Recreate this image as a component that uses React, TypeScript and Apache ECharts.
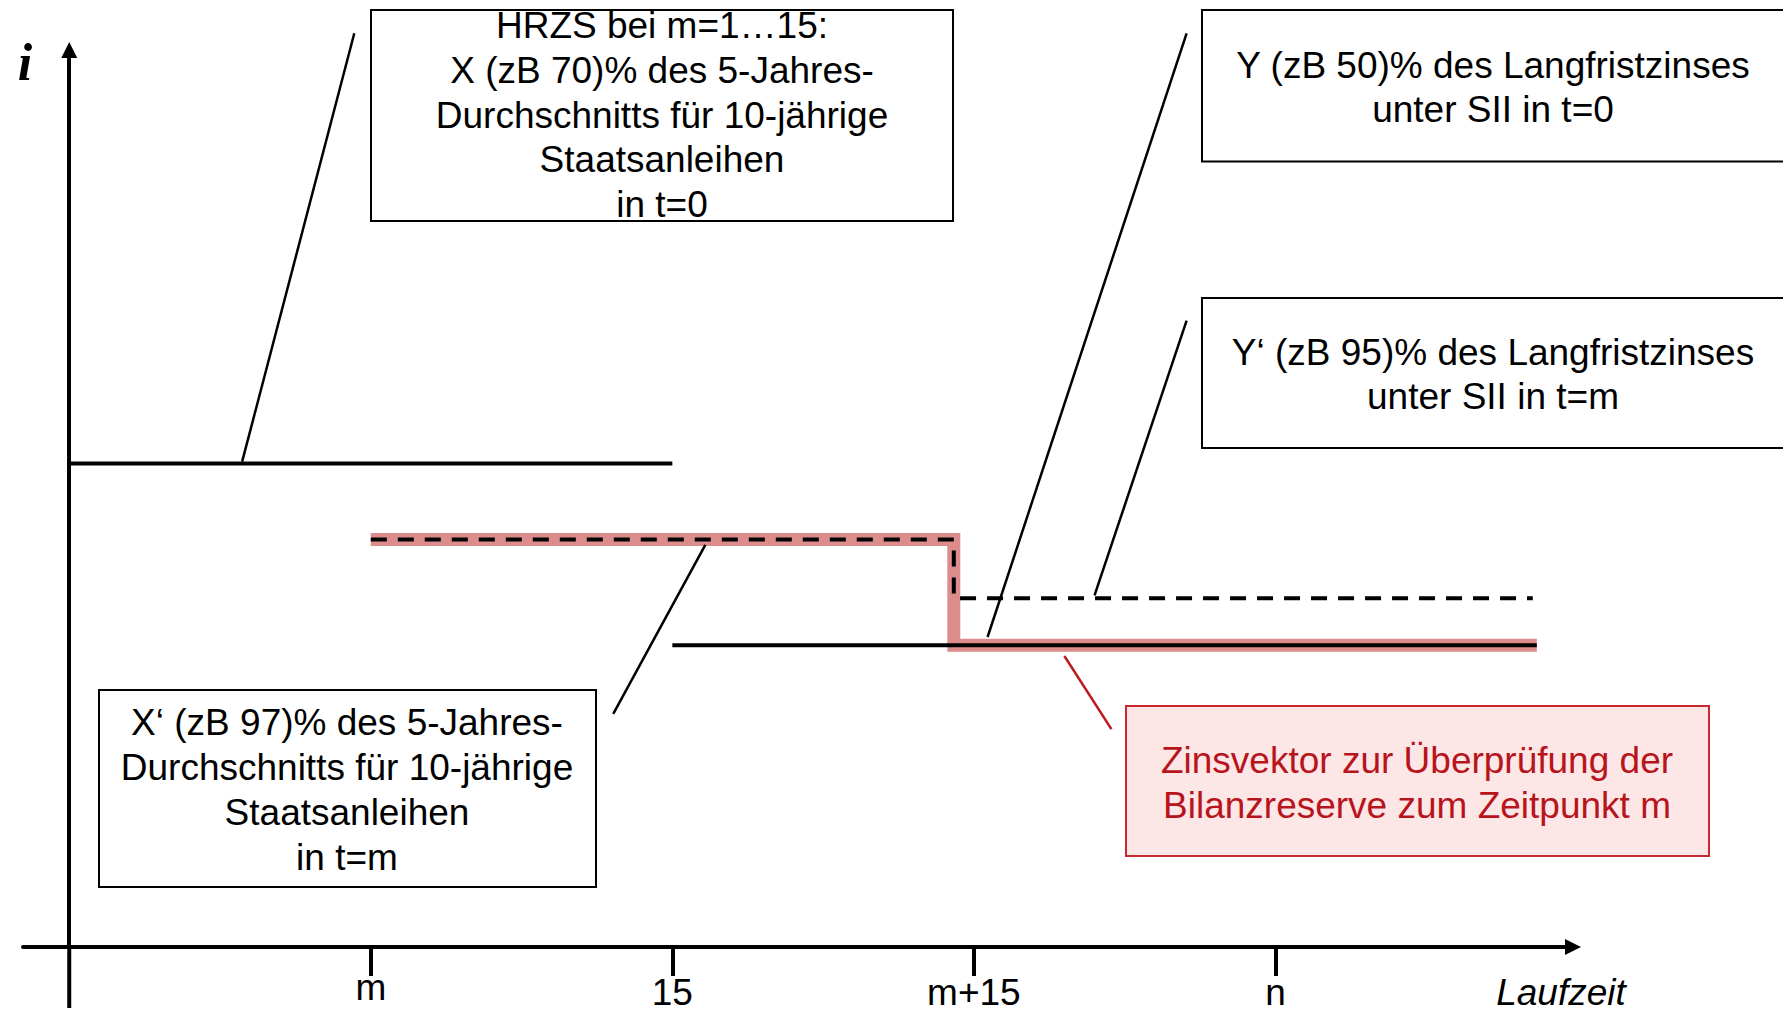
import React, { useEffect, useRef } from "react";
import * as echarts from "echarts";

// ---- axis ticks ----
const xTickValues = [7.5, 15, 22.5, 30];
const xTickLabels = ["m", "15", "m+15", "n"];

// ---- curves: [Laufzeit, Zins] ----
const hrzsT0 = [[0, 5.35], [15, 5.35]];
const langfristT0 = [[15, 3.34], [36.5, 3.34]];
const hrzsTm = [[7.5, 4.51], [22, 4.51], [22, 3.86], [36.4, 3.86]];
const zinsvektor = [[7.5, 4.51], [22, 4.51], [22, 3.34], [36.5, 3.34]];

// y-axis continuation below the time axis
const yAxisTail = [[0, 0], [0, -0.675]];

// ---- leader lines (from label to curve) ----
const leaderHrzs = [[7.09, 10.11], [4.3, 5.37]];
const leaderY = [[27.79, 10.11], [22.84, 3.43]];
const leaderYm = [[27.79, 6.93], [25.5, 3.89]];
const leaderXm = [[15.82, 4.45], [13.53, 2.58]];
const leaderVektor = [[24.75, 3.22], [25.92, 2.41]];

// ---- annotation texts ----
const textHrzs = ["HRZS bei m=1…15:", "X (zB 70)% des 5-Jahres-", "Durchschnitts für 10-jährige", "Staatsanleihen", "in t=0"];
const textY = ["Y (zB 50)% des Langfristzinses", "unter SII in t=0"];
const textYm = ["Y‘ (zB 95)% des Langfristzinses", "unter SII in t=m"];
const textXm = ["X‘ (zB 97)% des 5-Jahres-", "Durchschnitts für 10-jährige", "Staatsanleihen", "in t=m"];
const textVektor = ["Zinsvektor zur Überprüfung der", "Bilanzreserve zum Zeitpunkt m"];

const FONT = '"Liberation Sans", Arial, Helvetica, sans-serif';
const RED = "#b8141c";

function box(x: number, y: number, w: number, h: number, stroke: string, fill: string) {
  return {
    type: "rect",
    z: 10,
    silent: true,
    shape: { x, y, width: w, height: h },
    style: { fill, stroke, lineWidth: 2 },
  };
}

function label(lines: string[], x: number, y: number, color: string) {
  return {
    type: "text",
    z: 11,
    silent: true,
    x,
    y,
    style: {
      text: lines.join("\n"),
      fill: color,
      fontSize: 37,
      fontFamily: FONT,
      lineHeight: 44.8,
      align: "center",
      verticalAlign: "middle",
      textAlign: "center",
      textVerticalAlign: "middle",
    },
  };
}

function lineSeries(data: number[][], style: any, z: number) {
  return {
    type: "line",
    data,
    symbol: "none",
    showSymbol: false,
    clip: false,
    silent: true,
    z,
    lineStyle: style,
  };
}

export default function App() {
  const ref = useRef<HTMLDivElement>(null);
  useEffect(() => {
    if (!ref.current) return;
    const chart = echarts.init(ref.current, undefined, { renderer: "svg" });
    const option: any = {
      animation: false,
      backgroundColor: "#ffffff",
      grid: { left: 23, right: 210, top: 50, bottom: 67, containLabel: false, outerBoundsMode: "none" },
      xAxis: {
        type: "value",
        position: "bottom",
        min: -1.15,
        max: 37.4,
        splitLine: { show: false },
        axisLine: {
          show: true,
          onZero: false,
          symbol: ["none", "triangle"],
          symbolSize: [16, 16],
          lineStyle: { color: "#000", width: 4 },
        },
        axisTick: {
          show: true,
          customValues: xTickValues,
          length: 29,
          lineStyle: { color: "#000", width: 4 },
        },
        axisLabel: {
          show: true,
          customValues: xTickValues,
          margin: 28,
          color: "#000",
          fontSize: 37,
          fontFamily: FONT,
          lineHeight: 34,
          formatter: (v: number) => {
            const i = xTickValues.indexOf(v);
            const t = i >= 0 ? xTickLabels[i] : "";
            return i === 0 ? "{lo|" + t + "}" : t;
          },
          rich: {
            lo: { lineHeight: 24, fontSize: 37, fontFamily: FONT, color: "#000" },
          },
        },
      },
      yAxis: {
        type: "value",
        min: 0,
        max: 9.925,
        splitLine: { show: false },
        axisTick: { show: false },
        axisLabel: { show: false },
        axisLine: {
          show: true,
          onZero: true,
          symbol: ["none", "triangle"],
          symbolSize: [16, 16],
          lineStyle: { color: "#000", width: 4 },
        },
      },
      series: [
        lineSeries(yAxisTail, { color: "#000", width: 4 }, 1),
        lineSeries(zinsvektor, { color: "#dc8c8a", width: 13, cap: "butt", join: "miter" }, 2),
        lineSeries(hrzsT0, { color: "#000", width: 4 }, 3),
        lineSeries(langfristT0, { color: "#000", width: 4 }, 3),
        lineSeries(hrzsTm, { color: "#000", width: 4, type: [16, 11] }, 4),
        lineSeries(leaderHrzs, { color: "#000", width: 2.5 }, 5),
        lineSeries(leaderY, { color: "#000", width: 2.5 }, 5),
        lineSeries(leaderYm, { color: "#000", width: 2.5 }, 5),
        lineSeries(leaderXm, { color: "#000", width: 2.5 }, 5),
        lineSeries(leaderVektor, { color: "#c0181f", width: 2.5 }, 5),
      ],
      graphic: [
        box(371, 10, 582, 211, "#000", "#fff"),
        box(1202, 10, 620, 151.5, "#000", "#fff"),
        box(1202, 298, 620, 150, "#000", "#fff"),
        box(99, 690, 497, 197, "#000", "#fff"),
        box(1126, 706, 583, 150, "#c8282e", "#fde6e6"),
        label(textHrzs, 662, 115, "#000"),
        label(textY, 1493, 87.5, "#000"),
        label(textYm, 1493, 374.5, "#000"),
        label(textXm, 347, 790, "#000"),
        label(textVektor, 1417, 783, RED),
        {
          type: "text",
          z: 11,
          silent: true,
          x: 25,
          y: 62,
          style: {
            text: "i",
            fill: "#000",
            fontSize: 52,
            fontStyle: "italic",
            fontWeight: "bold",
            fontFamily: '"Liberation Serif", "Times New Roman", serif',
            align: "center",
            verticalAlign: "middle",
            textAlign: "center",
            textVerticalAlign: "middle",
          },
        },
        {
          type: "text",
          z: 11,
          silent: true,
          x: 1561,
          y: 992,
          style: {
            text: "Laufzeit",
            fill: "#000",
            fontSize: 37,
            lineHeight: 34,
            fontStyle: "italic",
            fontFamily: FONT,
            align: "center",
            verticalAlign: "middle",
            textAlign: "center",
            textVerticalAlign: "middle",
          },
        },
      ],
    };
    chart.setOption(option);
    return () => chart.dispose();
  }, []);
  return (
    <div
      ref={ref}
      style={{ position: "fixed", left: 0, top: 0, width: 1783, height: 1014, background: "#fff" }}
    />
  );
}
